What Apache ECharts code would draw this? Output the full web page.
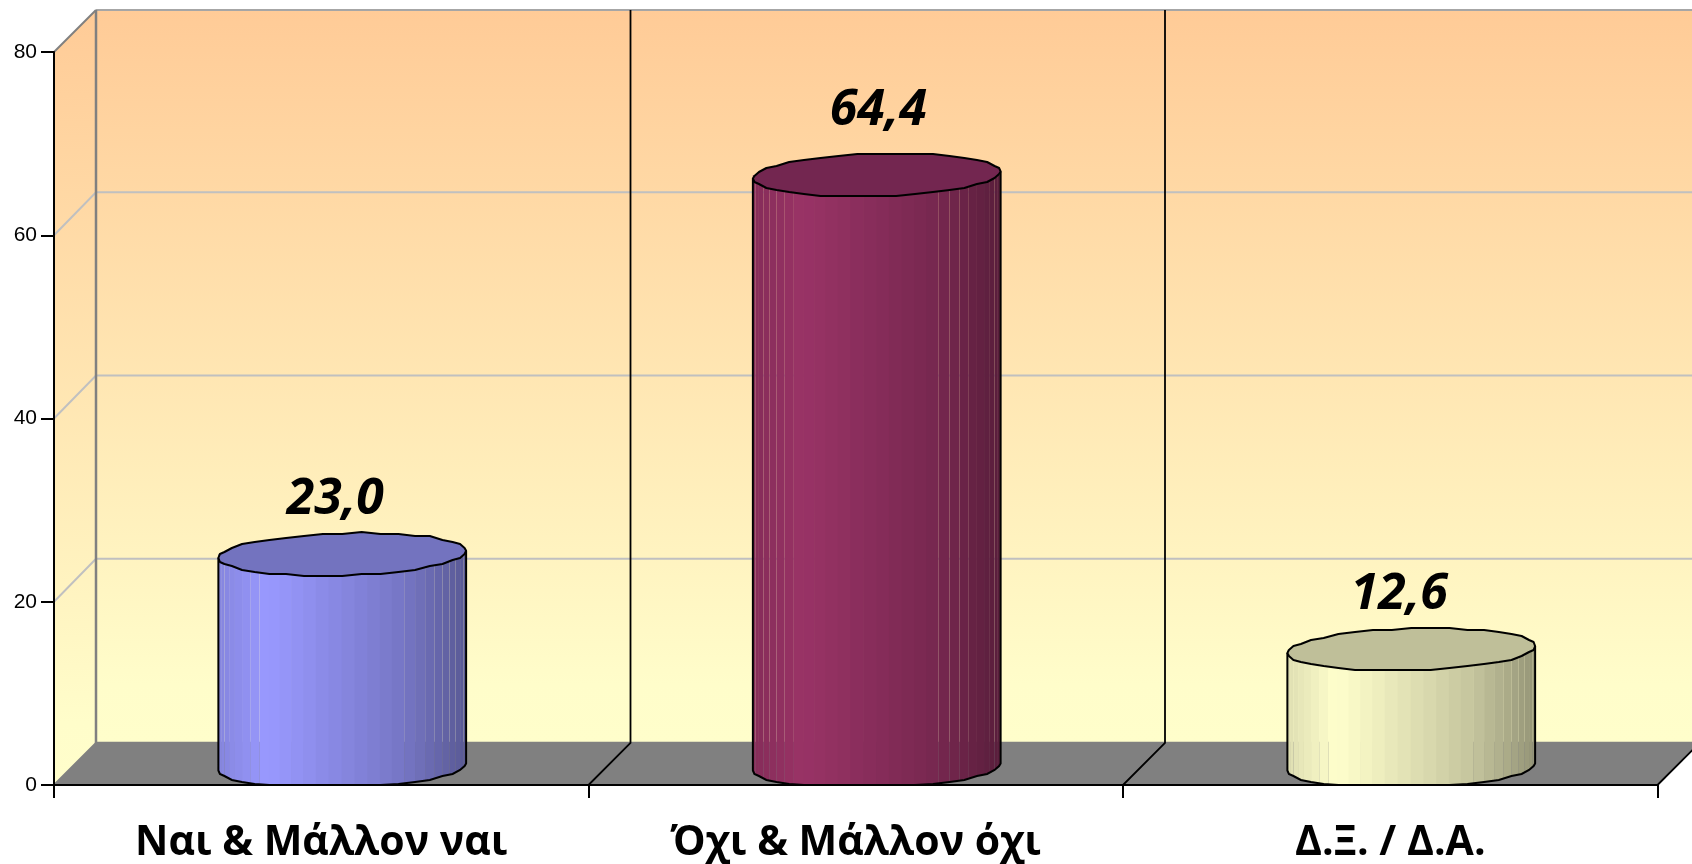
<!DOCTYPE html>
<html><head><meta charset="utf-8">
<style>html,body{margin:0;padding:0;background:#fff}#c{width:1692px;height:864px}</style>
<script src="https://cdn.jsdelivr.net/npm/echarts@6/dist/echarts.min.js"></script>
</head><body><div id="c"></div>
<script>
const categories = ['Ναι & Μάλλον ναι', 'Όχι & Μάλλον όχι', 'Δ.Ξ. / Δ.Α.'];
const values = [23.0, 64.4, 12.6];
const valueLabels = ['23,0', '64,4', '12,6'];
const barColors = ['#9999FF', '#993366', '#FFFFCC'];
const topColors = ['#7373BF', '#732650', '#BFBF99'];
const yTicks = [0, 20, 40, 60, 80];

const DEPTH = 42, RY = 21, TILT = 3.5, BAND_FILL = 0.4635, FACETS = 30, SNAP = 2, RING_N = 40, GRID_RISE = 43;
const labelShift = [[-7, -75], [1.5, -84], [-12, -75]];
const shadeStops = [[0,.87],[.2,1],[.5,.88],[.75,.77],[.9,.66],[1,.58]];

function shade(hex, f){
  const n = parseInt(hex.slice(1),16);
  const c = [n>>16&255, n>>8&255, n&255].map(v=>Math.round(v*f));
  return 'rgb('+c.join(',')+')';
}
function shadeAt(u){
  for(let i=1;i<shadeStops.length;i++){
    const a=shadeStops[i-1], b=shadeStops[i];
    if(u<=b[0]) return a[1]+(b[1]-a[1])*(u-a[0])/(b[0]-a[0]);
  }
  return .58;
}
function ring(cx, cy, a){
  const pts=[];
  for(let k=0;k<RING_N;k++){
    const t=k/RING_N*2*Math.PI;
    const x=cx+a*Math.cos(t);
    let y=cy+RY*Math.sin(t)-TILT*Math.cos(t);
    if(k!==0 && k!==RING_N/2) y=Math.round(y/SNAP)*SNAP;
    pts.push([x,y]);
  }
  return pts;
}
function frontArc(pts){ return pts.slice(0, pts.length/2+1); }
function arcY(arc, x){
  for(let i=1;i<arc.length;i++){
    if(x>=arc[i][0]-1e-6 && x<=arc[i-1][0]+1e-6){
      const d=arc[i-1][0]-arc[i][0];
      return d<1e-6?arc[i][1]:arc[i][1]+(arc[i-1][1]-arc[i][1])*(x-arc[i][0])/d;
    }
  }
  return arc[0][1];
}

function renderWalls(params, api){
  const cs = params.coordSys;
  const x0 = cs.x, x1 = cs.x+cs.width, yTop = cs.y, yBot = cs.y+cs.height;
  const wallFill = {type:'linear',x:0,y:0,x2:0,y2:1,colorStops:[{offset:0,color:'#FFCB97'},{offset:.92,color:'#FFFDCA'},{offset:1,color:'#FFFECB'}]};
  const ch = [];
  ch.push({type:'polygon',shape:{points:[[x0+DEPTH,yTop-DEPTH],[x1+DEPTH,yTop-DEPTH],[x1+DEPTH,yBot-DEPTH],[x0+DEPTH,yBot-DEPTH]]},style:{fill:wallFill}});
  ch.push({type:'polygon',shape:{points:[[x0,yTop],[x0+DEPTH,yTop-DEPTH],[x0+DEPTH,yBot-DEPTH],[x0,yBot]]},style:{fill:wallFill}});
  yTicks.slice(1,-1).forEach(v=>{
    const y=api.coord([0,v])[1];
    ch.push({type:'polyline',shape:{points:[[x0,y],[x0+DEPTH,y-GRID_RISE],[x1+DEPTH,y-GRID_RISE]]},style:{fill:null,stroke:'#C0C0C0',lineWidth:2}});
  });
  ch.push({type:'polygon',shape:{points:[[x0,yBot],[x1,yBot],[x1+DEPTH,yBot-DEPTH],[x0+DEPTH,yBot-DEPTH]]},style:{fill:'#808080'}});
  ch.push({type:'polyline',shape:{points:[[x0+DEPTH,yTop-DEPTH],[x1+DEPTH,yTop-DEPTH]]},style:{fill:null,stroke:'#A6A6A6',lineWidth:2}});
  ch.push({type:'polyline',shape:{points:[[x0,yTop],[x0+DEPTH,yTop-DEPTH]]},style:{fill:null,stroke:'#808080',lineWidth:2}});
  ch.push({type:'polyline',shape:{points:[[x0+DEPTH,yTop-DEPTH],[x0+DEPTH,yBot-DEPTH],[x1+DEPTH,yBot-DEPTH]]},style:{fill:null,stroke:'#808080',lineWidth:2.5}});
  ch.push({type:'polyline',shape:{points:[[x0,yBot],[x0+DEPTH,yBot-DEPTH]]},style:{fill:null,stroke:'#808080',lineWidth:2}});
  const band = cs.width/categories.length;
  for(let i=1;i<=categories.length;i++){
    const x=x0+band*i;
    const pts = i<categories.length
      ? [[x,yBot],[x+DEPTH,yBot-DEPTH],[x+DEPTH,yTop-DEPTH]]
      : [[x,yBot],[x+DEPTH,yBot-DEPTH]];
    ch.push({type:'polyline',shape:{points:pts},style:{fill:null,stroke:'#000',lineWidth:1.8}});
  }
  return {type:'group',children:ch};
}

function renderCylinder(params, api){
  const i = api.value(0), v = api.value(1);
  const band = api.size([1,0])[0];
  const base = api.coord([i,0]), topP = api.coord([i,v]);
  const cx = base[0]+DEPTH/2, a = band*BAND_FILL/2;
  const yFloor = base[1];
  const topCy = topP[1]-RY+1, baseCy = yFloor-18;
  const topRing = ring(cx, topCy, a);
  const baseArc = frontArc(ring(cx, baseCy, a)).map(p=>[p[0],Math.min(p[1],yFloor)]);
  const ch = [];
  for(let k=0;k<FACETS;k++){
    const u0=(1-Math.cos(k/FACETS*Math.PI))/2, u1=(1-Math.cos((k+1)/FACETS*Math.PI))/2;
    let x0=cx-a+2*a*u0; const x1=cx-a+2*a*u1;
    if(u0>.2 && u0<.72) x0-=.7;
    ch.push({type:'polygon',shape:{points:[[x0,topCy],[x1,topCy],[x1,arcY(baseArc,x1)],[x0,arcY(baseArc,x0)]]},
      style:{fill:shade(barColors[i],shadeAt((u0+u1)/2))}});
  }
  const outline=[[cx+a,topRing[0][1]]].concat(baseArc).concat([[cx-a,topRing[RING_N/2][1]]]);
  ch.push({type:'polyline',shape:{points:outline},style:{fill:null,stroke:'#000',lineWidth:2}});
  ch.push({type:'polygon',shape:{points:topRing},style:{fill:topColors[i],stroke:'#000',lineWidth:2,lineJoin:'round'}});
  ch.push({type:'text',x:cx+labelShift[i][0],y:topP[1]+labelShift[i][1],
    style:{text:valueLabels[i],fill:'#000',align:'center',verticalAlign:'middle',
      font:'italic bold 50px "Open Sans", sans-serif'}});
  return {type:'group',children:ch};
}

const chart = echarts.init(document.getElementById('c'), null, {renderer:'canvas'});
chart.setOption({
  animation:false,
  backgroundColor:'#fff',
  grid:{left:54,top:52,width:1603.5,height:733.5,containLabel:false},
  xAxis:{type:'category',data:categories,z:6,
    axisLine:{show:true,lineStyle:{color:'#000',width:2}},
    axisTick:{show:true,length:13,alignWithLabel:false,lineStyle:{color:'#000',width:2}},
    axisLabel:{color:'#000',margin:38,interval:0,fontSize:41,fontWeight:'bold',fontFamily:'"Open Sans", sans-serif'},
    splitLine:{show:false}},
  yAxis:{type:'value',min:0,max:80,interval:20,z:6,
    axisLine:{show:true,lineStyle:{color:'#000',width:2}},
    axisTick:{show:true,length:13,lineStyle:{color:'#000',width:2}},
    axisLabel:{color:'#000',margin:17,fontSize:21,fontFamily:'"Liberation Sans", Arial, sans-serif'},
    splitLine:{show:false}},
  series:[
    {type:'custom',z:1,silent:true,clip:false,data:[[0,0]],renderItem:renderWalls,encode:{x:0,y:1}},
    {type:'custom',z:3,silent:true,clip:false,data:values.map((v,i)=>[i,v]),renderItem:renderCylinder,encode:{x:0,y:1}}
  ]
});
</script></body></html>
